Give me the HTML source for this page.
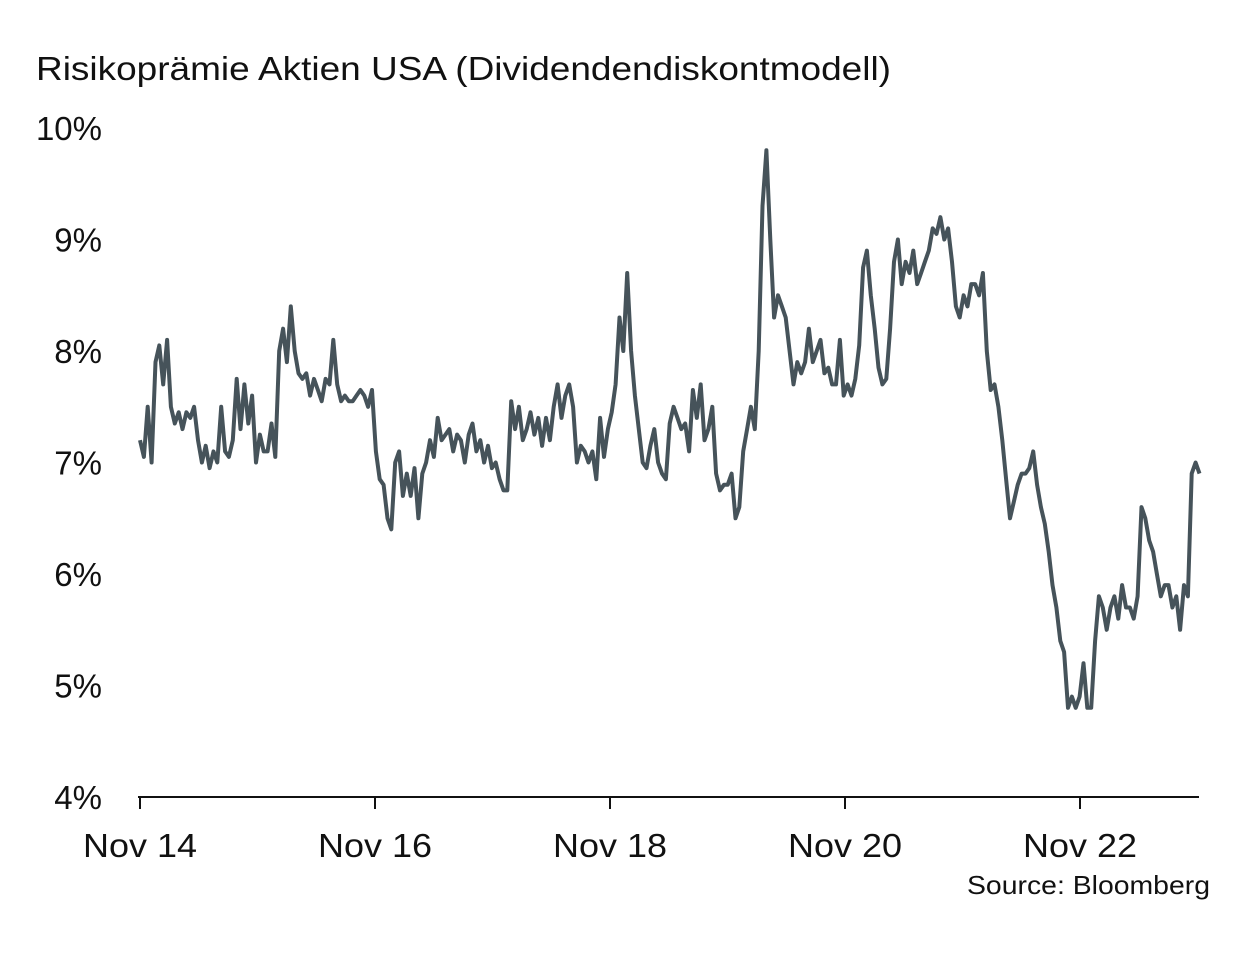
<!DOCTYPE html>
<html><head><meta charset="utf-8"><style>
body{margin:0;background:#fff;}
svg text{font-family:"Liberation Sans",sans-serif;fill:#111;}
</style></head><body>
<svg width="1249" height="949" viewBox="0 0 1249 949">
<text x="36" y="80" font-size="33" textLength="855" lengthAdjust="spacingAndGlyphs">Risikoprämie Aktien USA (Dividendendiskontmodell)</text>
<g id="yaxis"></g>
<g id="xaxis"></g>
<path id="line" fill="none" stroke="#46535a" stroke-width="4" stroke-linejoin="round"></path>
<text x="1210" y="894" font-size="26" text-anchor="end" textLength="243" lengthAdjust="spacingAndGlyphs">Source: Bloomberg</text>
</svg>
<script>
const yTicks=[4,5,6,7,8,9,10];
const xTickLabels=["Nov 14","Nov 16","Nov 18","Nov 20","Nov 22"];
const xTickMonths=[0,24,48,72,96];
const endMonth=108.2;
const values=[7.2,7.05,7.5,7.0,7.9,8.05,7.7,8.1,7.5,7.35,7.45,7.3,7.45,7.4,7.5,7.2,7.0,7.15,6.95,7.1,7.0,7.5,7.1,7.05,7.2,7.75,7.3,7.7,7.35,7.6,7.0,7.25,7.1,7.1,7.35,7.05,8.0,8.2,7.9,8.4,8.0,7.8,7.75,7.8,7.6,7.75,7.65,7.55,7.75,7.7,8.1,7.7,7.55,7.6,7.55,7.55,7.6,7.65,7.6,7.5,7.65,7.1,6.85,6.8,6.5,6.4,7.0,7.1,6.7,6.9,6.7,6.95,6.5,6.9,7.0,7.2,7.05,7.4,7.2,7.25,7.3,7.1,7.25,7.2,7.0,7.25,7.35,7.1,7.2,7.0,7.15,6.95,7.0,6.85,6.75,6.75,7.55,7.3,7.5,7.2,7.3,7.45,7.25,7.4,7.15,7.4,7.2,7.5,7.7,7.4,7.6,7.7,7.5,7.0,7.15,7.1,7.0,7.1,6.85,7.4,7.05,7.3,7.45,7.7,8.3,8.0,8.7,8.0,7.6,7.3,7.0,6.95,7.15,7.3,7.0,6.9,6.85,7.35,7.5,7.4,7.3,7.35,7.1,7.65,7.4,7.7,7.2,7.3,7.5,6.9,6.75,6.8,6.8,6.9,6.5,6.6,7.1,7.3,7.5,7.3,8.0,9.3,9.8,9.0,8.3,8.5,8.4,8.3,8.0,7.7,7.9,7.8,7.9,8.2,7.9,8.0,8.1,7.8,7.85,7.7,7.7,8.1,7.6,7.7,7.6,7.75,8.05,8.75,8.9,8.5,8.2,7.85,7.7,7.75,8.2,8.8,9.0,8.6,8.8,8.7,8.9,8.6,8.7,8.8,8.9,9.1,9.05,9.2,9.0,9.1,8.8,8.4,8.3,8.5,8.4,8.6,8.6,8.5,8.7,8.0,7.65,7.7,7.5,7.2,6.85,6.5,6.65,6.8,6.9,6.9,6.95,7.1,6.8,6.6,6.45,6.2,5.9,5.7,5.4,5.3,4.8,4.9,4.8,4.9,5.2,4.8,4.8,5.4,5.8,5.7,5.5,5.7,5.8,5.6,5.9,5.7,5.7,5.6,5.8,6.6,6.5,6.3,6.2,6.0,5.8,5.9,5.9,5.7,5.8,5.5,5.9,5.8,6.9,7.0,6.9];
const X0=140,X1=1199,Y0=797,PPU=111.5;
const mPerPx=24/235;
const xs=m=>X0+m/mPerPx;
const ys=v=>Y0-(v-4)*PPU;
const NS="http://www.w3.org/2000/svg";
const ya=document.getElementById('yaxis');
yTicks.forEach(t=>{const e=document.createElementNS(NS,'text');
e.setAttribute('x',102);e.setAttribute('y',ys(t)+12);e.setAttribute('font-size','33');e.setAttribute('text-anchor','end');
e.textContent=t+'%';


ya.appendChild(e);});
const xa=document.getElementById('xaxis');
const base=document.createElementNS(NS,'line');
base.setAttribute('x1',X0-2);base.setAttribute('x2',X1);base.setAttribute('y1',Y0);base.setAttribute('y2',Y0);
base.setAttribute('stroke','#111');base.setAttribute('stroke-width','2');


xa.appendChild(base);
xTickMonths.forEach((m,i)=>{const l=document.createElementNS(NS,'line');
l.setAttribute('x1',xs(m));l.setAttribute('x2',xs(m));l.setAttribute('y1',Y0);l.setAttribute('y2',Y0+12);
l.setAttribute('stroke','#111');l.setAttribute('stroke-width','2');


xa.appendChild(l);
const e=document.createElementNS(NS,'text');
e.setAttribute('x',xs(m));e.setAttribute('y',857);e.setAttribute('font-size','33');e.setAttribute('text-anchor','middle');
e.setAttribute('textLength','114');e.setAttribute('lengthAdjust','spacingAndGlyphs');
e.textContent=xTickLabels[i];


xa.appendChild(e);});
const n=values.length;
let d='';
values.forEach((v,i)=>{const m=i*endMonth/(n-1);d+=(i?'L':'M')+xs(m).toFixed(1)+','+ys(v).toFixed(1);});
document.getElementById('line').setAttribute('d',d);
</script>
</body></html>
